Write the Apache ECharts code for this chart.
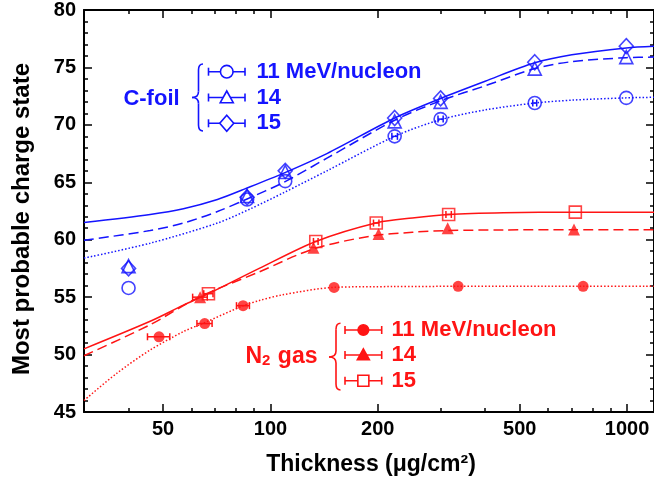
<!DOCTYPE html>
<html><head><meta charset="utf-8">
<script src="https://cdn.jsdelivr.net/npm/echarts@6/dist/echarts.min.js"></script>
<style>html,body{margin:0;padding:0;background:#fff}#c{width:654px;height:482px}</style>
</head><body><div id="c"></div>
<script>
// ---------------- data ----------------
const xMajorTicks = [50, 100, 200, 500, 1000];
const xMinorTicks = [40, 60, 70, 80, 90, 300, 400, 600, 700, 800, 900];
const xRange = [30, 1190];
const yRange = [45, 80];

// C-foil measurements
const cThick = [40, 86, 110, 223, 300, 551, 995];
const c11 = [55.8, 63.5, 65.1, 69.0, 70.5, 71.9, 72.35];
const c14 = [57.7, 63.8, 65.9, 70.3, 72.0, 74.9, 75.9];
const c15 = [57.5, 63.7, 66.0, 70.6, 72.3, 75.45, 76.85];
const c11Err = [0, 0, 0, 4, 5, 7, 0];

// N2 gas measurements
const n11Thick = [48.7, 65.4, 83.8, 150.8, 336, 753];
const n11 = [51.55, 52.7, 54.26, 55.85, 55.94, 55.94];
const n11Err = [3.5, 3.2, 3.5, 0, 0, 0];
const n14Thick = [63.5, 132, 201, 314, 710];
const n14 = [55.0, 59.3, 60.5, 61.0, 60.9];
const n14Err = [3, 0, 0, 0, 0];
const n15Thick = [67, 134, 198, 316, 716];
const n15 = [55.3, 59.85, 61.45, 62.2, 62.4];
const n15Err = [2, 2, 3.5, 5.5, 0];

// fitted curves
const fitC15T = [30, 46, 57, 71, 86, 109, 144, 223, 300, 400, 551, 700, 995, 1190];
const fitC15Q = [61.5, 62.2, 62.7, 63.5, 64.5, 65.8, 67.5, 70.6, 72.3, 73.8, 75.4, 76.1, 76.7, 76.85];
const fitC14T = [30, 46, 57, 71, 86, 109, 144, 223, 300, 400, 551, 700, 995, 1190];
const fitC14Q = [59.95, 60.8, 61.45, 62.45, 63.55, 65.0, 67.1, 70.4, 72.1, 73.4, 74.9, 75.5, 75.85, 75.9];
const fitC11T = [30, 46, 71, 88, 109, 144, 223, 300, 400, 551, 700, 995, 1190];
const fitC11Q = [58.4, 59.7, 61.45, 62.7, 64.1, 66.0, 69.0, 70.45, 71.3, 71.9, 72.15, 72.35, 72.4];
const fitN15T = [30, 46, 57, 67, 93, 134, 200, 250, 316, 450, 716, 1190];
const fitN15Q = [50.5, 52.9, 54.3, 55.3, 57.5, 59.85, 61.5, 61.9, 62.2, 62.35, 62.4, 62.4];
const fitN14T = [30, 46, 63, 93, 132, 190, 250, 314, 450, 710, 1190];
const fitN14Q = [49.9, 52.6, 55.0, 57.2, 59.2, 60.3, 60.65, 60.8, 60.85, 60.87, 60.87];
const fitN11T = [30, 37, 46, 57, 65, 84, 93, 108, 151, 220, 336, 753, 1190];
const fitN11Q = [46.0, 48.35, 50.4, 52.0, 52.75, 54.26, 54.7, 55.2, 55.85, 55.92, 55.94, 55.94, 55.94];

// ---------------- styles ----------------
const BLUE = '#1414ff';
const RED = '#ff1414';
const FONT = '"Liberation Sans", Arial, Helvetica, sans-serif';
const zip = (a, b, c) => a.map((v, i) => c ? [v, b[i], c[i]] : [v, b[i]]);
const lg = v => Math.log10(v);

function fit(name, t, q, color, type) {
  return { name, type: 'line', data: zip(t, q), showSymbol: false, smooth: 0.3,
    lineStyle: { color, width: 1.5, type, cap: 'butt' }, z: 2, silent: true };
}
function pts(name, t, q, symbol, size, color, hollow) {
  return { name, type: 'scatter', data: zip(t, q), symbol, symbolSize: size,
    itemStyle: hollow ? { color: 'rgba(0,0,0,0)', borderColor: color, borderWidth: 1.6 } : { color },
    z: 4, silent: true };
}
function errRender(params, api) {
  const t = api.value(0), q = api.value(1), e = api.value(2);
  if (!e) return null;
  const a = api.coord([t - e, q]), b = api.coord([t + e, q]);
  const h = 3.5;
  const style = { stroke: api.visual('color'), lineWidth: 1.5 };
  return { type: 'group', children: [
    { type: 'line', shape: { x1: a[0], y1: a[1], x2: b[0], y2: b[1] }, style },
    { type: 'line', shape: { x1: a[0], y1: a[1] - h, x2: a[0], y2: a[1] + h }, style },
    { type: 'line', shape: { x1: b[0], y1: b[1] - h, x2: b[0], y2: b[1] + h }, style }
  ] };
}
function errs(t, q, e, color) {
  return { type: 'custom', data: zip(t, q, e), renderItem: errRender,
    encode: { x: 0, y: 1 }, itemStyle: { color }, z: 5, silent: true };
}

// ---------------- axes ----------------
const tickAxis = (pos, vals, len, labels) => ({
  type: 'value', position: pos, min: lg(xRange[0]), max: lg(xRange[1]),
  axisLine: { show: false }, splitLine: { show: false },
  axisTick: { show: true, inside: true, length: len, customValues: vals.map(lg),
    lineStyle: { color: '#000', width: 1.5 } },
  axisLabel: labels ? { show: true, customValues: vals.map(lg), margin: 7,
    formatter: v => String(Math.round(Math.pow(10, v))),
    color: '#000', fontSize: 20, fontWeight: 'bold', fontFamily: FONT } : { show: false }
});
const yAx = (pos, labels) => ({
  type: 'value', position: pos, min: yRange[0], max: yRange[1], interval: 5,
  axisLine: { show: true, lineStyle: { color: '#000', width: 2 } },
  splitLine: { show: false },
  axisTick: { show: true, inside: true, length: 8, lineStyle: { color: '#000', width: 1.5 } },
  minorTick: { show: true, splitNumber: 5, length: 4, lineStyle: { color: '#000', width: 1.5 } },
  axisLabel: labels ? { show: true, margin: 8, color: '#000', fontSize: 20, fontWeight: 'bold', fontFamily: FONT } : { show: false }
});

// ---------------- legend graphics ----------------
function brace(xEnd, xStem, xTip, yTop, yMid, yBot, color) {
  const s = { stroke: color, lineWidth: 1.6, fill: null };
  return [
    { type: 'bezierCurve', shape: { x1: xEnd, y1: yTop, cpx1: xStem + 1, cpy1: yTop, cpx2: xStem, cpy2: yTop + 2, x2: xStem, y2: yTop + 6 }, style: s },
    { type: 'line', shape: { x1: xStem, y1: yTop + 6, x2: xStem, y2: yMid - 6 }, style: s },
    { type: 'bezierCurve', shape: { x1: xStem, y1: yMid - 6, cpx1: xStem, cpy1: yMid - 2, cpx2: xStem - 2, cpy2: yMid, x2: xTip, y2: yMid }, style: s },
    { type: 'bezierCurve', shape: { x1: xTip, y1: yMid, cpx1: xStem - 2, cpy1: yMid, cpx2: xStem, cpy2: yMid + 2, x2: xStem, y2: yMid + 6 }, style: s },
    { type: 'line', shape: { x1: xStem, y1: yMid + 6, x2: xStem, y2: yBot - 6 }, style: s },
    { type: 'bezierCurve', shape: { x1: xStem, y1: yBot - 6, cpx1: xStem, cpy1: yBot - 2, cpx2: xStem + 1, cpy2: yBot, x2: xEnd, y2: yBot }, style: s }
  ];
}
function legendRow(x1, x2, y, color, marker, label, tx) {
  const s = { stroke: color, lineWidth: 1.6 };
  const cx = (x1 + x2) / 2;
  const fill = marker.filled ? color : '#fff';
  const ms = { stroke: color, lineWidth: 1.6, fill };
  let m;
  if (marker.kind === 'circle') m = { type: 'circle', shape: { cx, cy: y, r: marker.r }, style: ms };
  else if (marker.kind === 'triangle') m = { type: 'polygon', shape: { points: [[cx, y - marker.r], [cx + marker.r, y + marker.r * 0.8], [cx - marker.r, y + marker.r * 0.8]] }, style: ms };
  else if (marker.kind === 'diamond') m = { type: 'polygon', shape: { points: [[cx, y - marker.r - 1], [cx + marker.r, y], [cx, y + marker.r + 1], [cx - marker.r, y]] }, style: ms };
  else m = { type: 'rect', shape: { x: cx - marker.r, y: y - marker.r, width: 2 * marker.r, height: 2 * marker.r }, style: ms };
  return [
    { type: 'line', shape: { x1: x1, y1: y, x2: x2, y2: y }, style: s },
    { type: 'line', shape: { x1: x1, y1: y - 4, x2: x1, y2: y + 4 }, style: s },
    { type: 'line', shape: { x1: x2, y1: y - 4, x2: x2, y2: y + 4 }, style: s },
    m,
    { type: 'text', x: tx, y: y, style: { text: label, fill: color, font: 'bold 22px ' + FONT, textAlign: 'left', textVerticalAlign: 'middle' } }
  ];
}

const graphic = [].concat(
  [{ type: 'text', x: 151.5, y: 98.5, style: { text: 'C-foil', fill: BLUE, font: 'bold 22px ' + FONT, textAlign: 'center', textVerticalAlign: 'middle' } }],
  brace(203, 198.5, 192, 64, 97.5, 131, BLUE),
  legendRow(208.5, 245, 71.7, BLUE, { kind: 'circle', r: 6.3 }, '11 MeV/nucleon', 256.5),
  legendRow(208.5, 245, 97.5, BLUE, { kind: 'triangle', r: 6.5 }, '14', 256.5),
  legendRow(208.5, 245, 123.3, BLUE, { kind: 'diamond', r: 7 }, '15', 256.5),
  [{ type: 'text', x: 281.5, y: 357, style: { text: '{b|N}{s|2}{b| gas}', fill: RED, textAlign: 'center', textVerticalAlign: 'middle',
      rich: { b: { font: 'bold 23px ' + FONT, fill: RED, verticalAlign: 'bottom' }, s: { font: 'bold 15px ' + FONT, fill: RED, verticalAlign: 'bottom', padding: [0, 1, 0, 0] } } } }],
  brace(340.5, 336, 329, 323.3, 357, 390, RED),
  legendRow(345, 381.7, 330, RED, { kind: 'circle', r: 5.3, filled: true }, '11 MeV/nucleon', 391.5),
  legendRow(345, 381.7, 355, RED, { kind: 'triangle', r: 6, filled: true }, '14', 391.5),
  legendRow(345, 381.7, 380.7, RED, { kind: 'rect', r: 5.5 }, '15', 391.5),
  [
    { type: 'text', x: 22, y: 219, rotation: Math.PI / 2, style: { text: 'Most probable charge state', fill: '#000', font: 'bold 24px ' + FONT, textAlign: 'center', textVerticalAlign: 'middle' } },
    { type: 'text', x: 371, y: 465, style: { text: 'Thickness (μg/cm²)', fill: '#000', font: 'bold 23px ' + FONT, textAlign: 'center', textVerticalAlign: 'middle' } }
  ]
);

const option = {
  backgroundColor: '#fff',
  animation: false,
  grid: { left: 84, right: -1, top: 10, bottom: 70, containLabel: false },
  xAxis: [
    { type: 'log', logBase: 10, min: xRange[0], max: xRange[1], position: 'bottom',
      axisLine: { show: true, onZero: false, lineStyle: { color: '#000', width: 2 } },
      axisTick: { show: false }, axisLabel: { show: false }, splitLine: { show: false }, minorTick: { show: false } },
    tickAxis('bottom', xMajorTicks, 8, true),
    tickAxis('bottom', xMinorTicks, 4, false),
    Object.assign(tickAxis('top', xMajorTicks, 8, false), { axisLine: { show: true, lineStyle: { color: '#000', width: 2 } } }),
    tickAxis('top', xMinorTicks, 4, false)
  ],
  yAxis: [yAx('left', true), yAx('right', false)],
  series: [
    fit('C15 fit', fitC15T, fitC15Q, BLUE, 'solid'),
    fit('C14 fit', fitC14T, fitC14Q, BLUE, [10, 5]),
    fit('C11 fit', fitC11T, fitC11Q, BLUE, [1.5, 2]),
    fit('N15 fit', fitN15T, fitN15Q, RED, 'solid'),
    fit('N14 fit', fitN14T, fitN14Q, RED, [10, 5]),
    fit('N11 fit', fitN11T, fitN11Q, RED, [1.5, 2]),
    pts('C-foil 15', cThick, c15, 'diamond', [14, 15], BLUE, true),
    pts('C-foil 14', cThick, c14, 'triangle', 13, BLUE, true),
    pts('C-foil 11', cThick, c11, 'circle', 13, BLUE, true),
    errs(cThick, c11, c11Err, BLUE),
    pts('N2 11', n11Thick, n11, 'circle', 11, RED, false),
    pts('N2 14', n14Thick, n14, 'triangle', 12, RED, false),
    pts('N2 15', n15Thick, n15, 'rect', 12, RED, true),
    errs(n11Thick, n11, n11Err, RED),
    errs(n14Thick, n14, n14Err, RED),
    errs(n15Thick, n15, n15Err, RED)
  ],
  graphic
};
const chart = echarts.init(document.getElementById('c'), null, { renderer: 'canvas' });
chart.setOption(option);
</script></body></html>
